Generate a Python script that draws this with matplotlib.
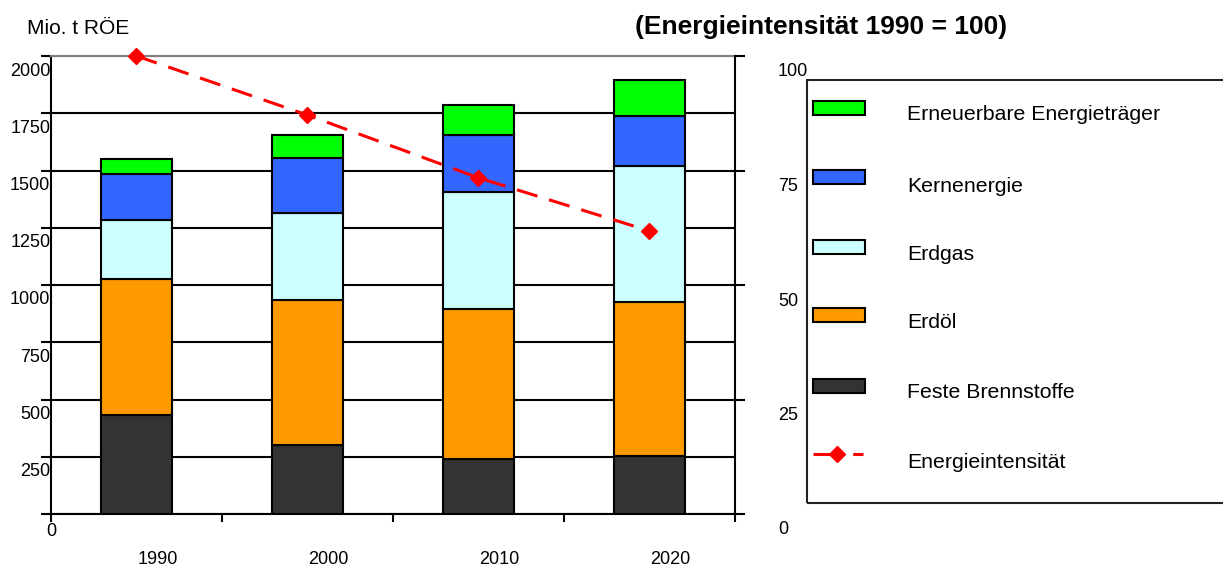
import numpy as np
import matplotlib
matplotlib.use("Agg")
import matplotlib.pyplot as plt
import matplotlib.transforms as mtrans
from matplotlib.patches import Rectangle
from matplotlib.lines import Line2D

plt.rcParams['font.family'] = ['Liberation Sans', 'DejaVu Sans']

# data
years = ['1990', '2000', '2010', '2020']
feste = [433, 302, 240, 253]
erdoel = [594, 633, 656, 673]
erdgas = [258, 380, 511, 595]
kern = [201, 241, 249, 218]
erneuerbar = [64, 100, 131, 158]
intensitaet = [100, 87.1, 73.4, 61.8]

series = [
    ('Feste Brennstoffe', feste, '#333333'),
    ('Erdöl', erdoel, '#FF9900'),
    ('Erdgas', erdgas, '#CCFFFF'),
    ('Kernenergie', kern, '#3366FF'),
    ('Erneuerbare Energieträger', erneuerbar, '#00FF00'),
]
left_ticks = [0, 250, 500, 750, 1000, 1250, 1500, 1750, 2000]
right_ticks = [0, 25, 50, 75, 100]

W, H = 1223, 567
fig = plt.figure(figsize=(W / 100, H / 100), dpi=100)
ax = fig.add_axes([51 / W, 1 - 514 / H, (735 - 51) / W, (514 - 56) / H])

def px(x, y):
    return x / W, 1 - y / H

def shift(dx, dy):
    # offset in pixels (dpi 100)
    return mtrans.ScaledTranslation(dx / 100, -dy / 100, fig.dpi_scale_trans)

x = np.arange(len(years))
bottom = np.zeros(len(years))
for name, vals, col in series:
    ax.bar(x, vals, width=0.41, bottom=bottom, color=col, edgecolor='black',
           linewidth=1.5, zorder=3)
    bottom += np.array(vals)

ax.set_xlim(-0.5, len(years) - 0.5)
ax.set_ylim(0, 2000)
ax.set_xticks(np.arange(-0.5, len(years), 1.0))
ax.set_xticklabels([])
ax.set_yticks(left_ticks)
ax.set_yticklabels([])
ax.tick_params(axis='x', direction='out', length=6, width=1.5)
ax.tick_params(axis='y', direction='out', length=7, width=1.5)
ax.yaxis.grid(True, color='black', linewidth=1.5, zorder=0)
ax.set_axisbelow(True)
for s in ['left', 'bottom']:
    ax.spines[s].set_linewidth(1.5)
ax.spines['top'].set_color('#808080')
ax.spines['top'].set_linewidth(1.5)
ax.spines['right'].set_visible(False)

# left tick labels sit below their lines (Excel style)
for v in left_ticks:
    if v == 0:
        ax.text(0.0, v, '0', ha='center', va='center', fontsize=13,
                transform=ax.get_yaxis_transform() + shift(0, 18))
    else:
        ax.text(-0.001, v, str(v), ha='right', va='center', fontsize=13,
                transform=ax.get_yaxis_transform() + shift(0, 15))

for i, yr in enumerate(years):
    ax.text(i, 0, yr, ha='center', va='center', fontsize=13,
            transform=ax.get_xaxis_transform() + shift(21, 46))

ax2 = ax.twinx()
ax2.set_ylim(0, 100)
ax2.set_yticks(right_ticks)
ax2.set_yticklabels([])
ax2.tick_params(axis='y', direction='out', length=7, width=1.5)
for s in ['left', 'top', 'bottom']:
    ax2.spines[s].set_visible(False)
ax2.spines['right'].set_linewidth(1.5)
ax2.plot(x, intensitaet, color='#FF0000', linewidth=2.2, dashes=(7, 4),
         marker='D', markersize=8.5, clip_on=False, zorder=5)

for v in right_ticks:
    ax2.text(1.0, v, str(v), ha='left', va='center', fontsize=13,
             transform=ax2.get_yaxis_transform() + shift(43, 16))

fig.text(*px(27, 28), 'Mio. t RÖE', ha='left', va='center', fontsize=15)
fig.text(*px(635, 27), '(Energieintensität 1990 = 100)', ha='left', va='center',
         fontsize=19, fontweight='bold')

# legend box
fx0, fy0 = px(807, 503)
fx1, fy1 = px(1240, 80)
fig.add_artist(Rectangle((fx0, fy0), fx1 - fx0, fy1 - fy0, transform=fig.transFigure,
                         facecolor='none', edgecolor='#222222', linewidth=1.5))
patch_y = [108, 177, 247, 315, 386]
text_y = [115, 186, 255, 323, 393]
for (name, vals, col), py, ty in zip(series[::-1], patch_y, text_y):
    a, b = px(813, py + 7)
    fig.add_artist(Rectangle((a, b), 52 / W, 14 / H, transform=fig.transFigure,
                             facecolor=col, edgecolor='black', linewidth=1.5))
    fig.text(*px(907, ty), name, ha='left', va='center', fontsize=15.3)
fig.add_artist(Line2D([813 / W, 863 / W], [1 - 454 / H] * 2, transform=fig.transFigure,
                      color='#FF0000', linewidth=2.2, dashes=(9, 4)))
fig.add_artist(Line2D([837 / W], [1 - 454 / H], transform=fig.transFigure,
                      color='#FF0000', marker='D', markersize=8.5))
fig.text(*px(907, 463), 'Energieintensität', ha='left', va='center', fontsize=15.3)

fig.savefig('out.png', dpi=100)
